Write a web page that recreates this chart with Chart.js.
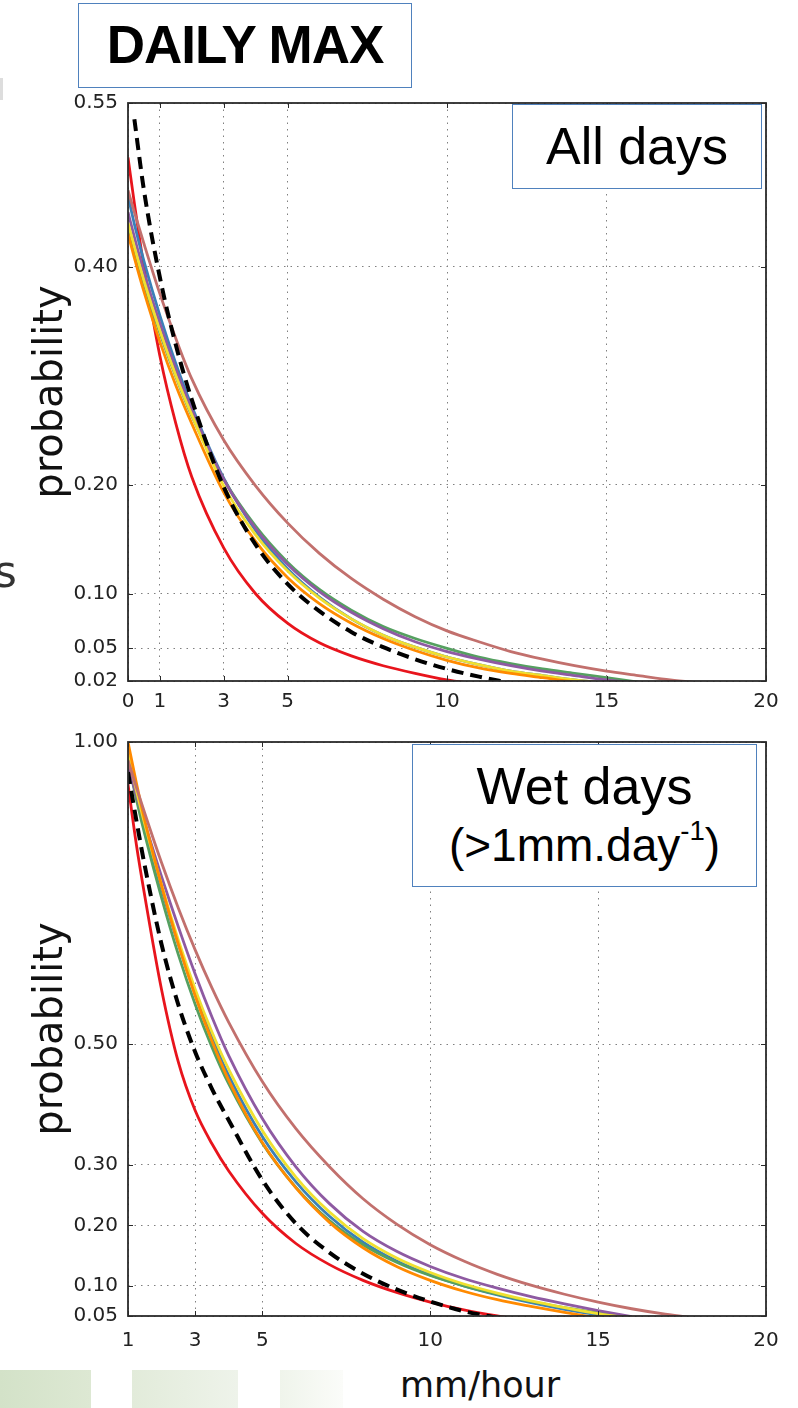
<!DOCTYPE html>
<html>
<head>
<meta charset="utf-8">
<title>Daily max - exceedance probability</title>
<script src="https://cdn.jsdelivr.net/npm/chart.js@4.4.1/dist/chart.umd.min.js"></script>
<style>
    body { margin: 0; background: #fff; }
    #page { position: relative; width: 798px; height: 1408px; overflow: hidden; font-family: "Liberation Sans", Arial, sans-serif; }
    canvas { position: absolute; left: 0; }
    #allChart { top: 0; }
    #wetChart { top: 720px; }
    .box { position: absolute; background: #fff; border: 1.5px solid #4f81bd; box-sizing: border-box; text-align: center; color: #000; }
    #titleBox { left: 78px; top: 3px; width: 334px; height: 85px; font-weight: bold; font-size: 53px; letter-spacing: -1px; line-height: 82px; }
    #allBox { left: 512px; top: 104px; width: 250px; height: 85px; font-size: 52px; line-height: 82px; }
    #wetBox { left: 412px; top: 744px; width: 345px; height: 143px; padding-top: 13px; }
    #wetBox .l1 { font-size: 52px; line-height: 56px; }
    #wetBox .l2 { font-size: 46px; line-height: 56px; margin-top: 3px; }
    #wetBox sup { font-size: 0.6em; line-height: 0; vertical-align: 0.75em; }
    #xTitle { position: absolute; left: 400px; top: 1365px; font-family: "DejaVu Sans", sans-serif; font-size: 35px; line-height: 40px; color: #111; }
    #cutS { position: absolute; left: -6px; top: 550px; font-family: "DejaVu Sans", sans-serif; font-size: 44px; line-height: 44px; color: #333; }
    #cutMark { position: absolute; left: 0; top: 78px; width: 3px; height: 22px; background: #ddd; }
    .leaf { position: absolute; top: 1370px; height: 38px; }
</style>
</head>
<body>
<div id="page">
    <canvas id="allChart" width="798" height="720"></canvas>
    <canvas id="wetChart" width="798" height="640"></canvas>

    <div id="titleBox" class="box">DAILY MAX</div>
    <div id="allBox" class="box">All days</div>
    <div id="wetBox" class="box">
        <div class="l1">Wet days</div>
        <div class="l2">(&gt;1mm.day<sup>-1</sup>)</div>
    </div>
    <div id="xTitle">mm/hour</div>
    <div id="cutS">s</div>
    <div id="cutMark"></div>
    <div class="leaf" style="left:0;width:91px;background:linear-gradient(90deg,#d3e2c8,#dde8d3);"></div>
    <div class="leaf" style="left:132px;width:106px;background:linear-gradient(90deg,#e2ebda,#eef3ea);"></div>
    <div class="leaf" style="left:280px;width:63px;background:linear-gradient(90deg,#eff4eb,#fbfcf9);"></div>
</div>

<script>
// ---- All days panel (x in mm/hour, y = probability) ----
const allX = [0, 0.2, 0.5, 1, 1.5, 2, 3, 4, 5, 6, 7, 8, 9, 10, 11, 12, 13, 14, 15, 16, 17, 18];
const allDashed = [null, 0.535, 0.47, 0.39, 0.328, 0.278, 0.198, 0.145, 0.109, 0.084, 0.065, 0.051, 0.040, 0.031, 0.024, 0.018, null, null, null, null, null, null];
const allRosy   = [0.47, 0.45, 0.421, 0.375, 0.334, 0.297, 0.241, 0.199, 0.165, 0.137, 0.114, 0.095, 0.079, 0.066, 0.056, 0.047, 0.040, 0.034, 0.029, 0.025, 0.021, 0.018];
const allOrange = [0.43, 0.408, 0.377, 0.331, 0.291, 0.256, 0.193, 0.148, 0.115, 0.091, 0.073, 0.059, 0.048, 0.039, 0.032, 0.027, 0.023, 0.019, 0.016, null, null, null];
const allYellow = [0.44, 0.418, 0.387, 0.341, 0.300, 0.264, 0.199, 0.154, 0.121, 0.096, 0.077, 0.062, 0.051, 0.042, 0.035, 0.029, 0.025, 0.021, 0.018, null, null, null];
const allPurple = [0.45, 0.427, 0.395, 0.348, 0.306, 0.269, 0.205, 0.160, 0.127, 0.102, 0.083, 0.068, 0.056, 0.047, 0.040, 0.034, 0.029, 0.025, 0.021, 0.018, null, null];
const allGreen  = [0.435, 0.414, 0.384, 0.339, 0.299, 0.263, 0.205, 0.162, 0.129, 0.104, 0.085, 0.070, 0.059, 0.050, 0.042, 0.036, 0.031, 0.027, 0.023, 0.019, null, null];
const allBlue   = [0.465, 0.439, 0.405, 0.355, 0.311, 0.272, 0.206, 0.158, 0.123, 0.097, 0.077, 0.062, 0.051, 0.042, 0.035, 0.029, 0.025, 0.021, 0.018, null, null, null];
const allRed    = [0.50, 0.458, 0.40, 0.318, 0.256, 0.207, 0.142, 0.100, 0.073, 0.055, 0.043, 0.034, 0.027, 0.021, 0.017, null, null, null, null, null, null, null];

// ---- Wet days panel ----
const wetX = [1, 1.25, 1.5, 2, 2.5, 3, 3.5, 4, 5, 6, 7, 8, 9, 10, 11, 12, 13, 14, 15, 16, 17, 18];
const wetDashed = [0.95, 0.87, 0.795, 0.665, 0.565, 0.487, 0.426, 0.374, 0.275, 0.203, 0.155, 0.120, 0.094, 0.074, 0.058, 0.047, null, null, null, null, null, null];
const wetRosy   = [0.97, 0.925, 0.882, 0.80, 0.725, 0.656, 0.593, 0.536, 0.438, 0.36, 0.297, 0.244, 0.202, 0.168, 0.141, 0.119, 0.101, 0.086, 0.073, 0.062, 0.053, 0.046];
const wetOrange = [1.0, 0.932, 0.87, 0.762, 0.665, 0.58, 0.505, 0.44, 0.337, 0.262, 0.205, 0.163, 0.132, 0.109, 0.091, 0.077, 0.066, 0.056, 0.047, null, null, null];
const wetYellow = [0.98, 0.92, 0.864, 0.763, 0.672, 0.591, 0.52, 0.458, 0.357, 0.28, 0.222, 0.178, 0.146, 0.122, 0.103, 0.088, 0.075, 0.064, 0.054, 0.046, null, null];
const wetPurple = [0.96, 0.912, 0.866, 0.777, 0.694, 0.616, 0.545, 0.481, 0.377, 0.297, 0.236, 0.19, 0.157, 0.132, 0.112, 0.096, 0.082, 0.07, 0.059, 0.049, null, null];
const wetGreen  = [0.97, 0.905, 0.847, 0.742, 0.648, 0.566, 0.495, 0.434, 0.336, 0.263, 0.208, 0.168, 0.139, 0.117, 0.1, 0.086, 0.074, 0.064, 0.055, 0.047, null, null];
const wetBlue   = [0.97, 0.912, 0.858, 0.757, 0.665, 0.583, 0.511, 0.448, 0.347, 0.272, 0.215, 0.172, 0.141, 0.118, 0.1, 0.085, 0.072, 0.061, 0.052, 0.045, null, null];
const wetRed    = [0.93, 0.83, 0.745, 0.59, 0.47, 0.39, 0.335, 0.29, 0.22, 0.17, 0.135, 0.109, 0.089, 0.073, 0.06, 0.05, 0.042, null, null, null, null, null];

// tick labels
const allXTicks = [0, 1, 3, 5, 10, 15, 20];
const allYTicks = [0.02, 0.05, 0.10, 0.20, 0.40, 0.55];
const wetXTicks = [1, 3, 5, 10, 15, 20];
const wetYTicks = [0.05, 0.10, 0.20, 0.30, 0.50, 1.00];

// line styles, first one is drawn on top
const lineStyles = [
    { color: '#000000', width: 4, dash: [12, 7] },
    { color: '#c2706d', width: 2.8 },
    { color: '#ff8a00', width: 2.8 },
    { color: '#f0e030', width: 2.8 },
    { color: '#8e5aa2', width: 2.8 },
    { color: '#55a060', width: 2.8 },
    { color: '#3a80b8', width: 2.8 },
    { color: '#e8141c', width: 2.8 }
];

const tickFont = { family: 'DejaVu Sans', size: 20 };

function toPoints(xs, ys) {
    return xs.map((x, i) => ({ x: x, y: ys[i] }));
}

function makeDatasets(xs, seriesList) {
    return seriesList.map((ys, i) => ({
        data: toPoints(xs, ys),
        borderColor: lineStyles[i].color,
        borderWidth: lineStyles[i].width,
        borderDash: lineStyles[i].dash || [],
        pointRadius: 0,
        fill: false
    }));
}

// frame round the plot plus small inward tick marks
const framePlugin = {
    id: 'frame',
    afterDraw(chart) {
        const { ctx, chartArea: a, scales } = chart;
        ctx.save();
        ctx.strokeStyle = '#2a2a2a';
        ctx.lineWidth = 1;
        scales.x.ticks.forEach(t => {
            const px = Math.round(scales.x.getPixelForValue(t.value)) + 0.5;
            ctx.beginPath();
            ctx.moveTo(px, a.bottom); ctx.lineTo(px, a.bottom - 5);
            ctx.moveTo(px, a.top); ctx.lineTo(px, a.top + 5);
            ctx.stroke();
        });
        scales.y.ticks.forEach(t => {
            const py = Math.round(scales.y.getPixelForValue(t.value)) + 0.5;
            ctx.beginPath();
            ctx.moveTo(a.left, py); ctx.lineTo(a.left + 5, py);
            ctx.moveTo(a.right, py); ctx.lineTo(a.right - 5, py);
            ctx.stroke();
        });
        ctx.lineWidth = 1.8;
        ctx.strokeRect(a.left, a.top, a.right - a.left, a.bottom - a.top);
        ctx.restore();
    }
};

function makeScales(xMin, xTicks, yMin, yMax, yTicks, xAxisHeight, xTickPad) {
    const gridStyle = { color: '#808080', lineWidth: 1, drawTicks: false };
    return {
        x: {
            type: 'linear',
            min: xMin,
            max: 20,
            afterBuildTicks: s => { s.ticks = xTicks.map(v => ({ value: v })); },
            afterFit: s => { s.height = xAxisHeight; },
            ticks: { font: tickFont, color: '#222', padding: xTickPad, autoSkip: false, maxRotation: 0, callback: v => String(v) },
            grid: gridStyle,
            border: { display: false, dash: [1.5, 5] }
        },
        y: {
            type: 'linear',
            min: yMin,
            max: yMax,
            afterBuildTicks: s => { s.ticks = yTicks.map(v => ({ value: v })); },
            afterFit: s => { s.width = 128; },
            ticks: { font: tickFont, color: '#222', padding: 10, autoSkip: false, callback: v => v.toFixed(2) },
            grid: gridStyle,
            border: { display: false, dash: [1.5, 5] },
            title: {
                display: true,
                text: 'probability',
                color: '#111',
                font: { family: 'DejaVu Sans', size: 40 },
                padding: { top: 28, bottom: 0 }
            }
        }
    };
}

function buildChart(canvasId, datasets, scales, padTop) {
    const ctx = document.getElementById(canvasId).getContext('2d');
    return new Chart(ctx, {
        type: 'line',
        data: { datasets: datasets },
        options: {
            responsive: false,
            animation: false,
            devicePixelRatio: 1,
            layout: { padding: { top: padTop, right: 32, left: 0, bottom: 0 } },
            elements: { line: { cubicInterpolationMode: 'monotone' } },
            plugins: { legend: { display: false }, tooltip: { enabled: false } },
            scales: scales
        },
        plugins: [framePlugin]
    });
}

document.addEventListener('DOMContentLoaded', function() {
    buildChart('allChart',
        makeDatasets(allX, [allDashed, allRosy, allOrange, allYellow, allPurple, allGreen, allBlue, allRed]),
        makeScales(0, allXTicks, 0.02, 0.55, allYTicks, 39, 9),
        103);

    buildChart('wetChart',
        makeDatasets(wetX, [wetDashed, wetRosy, wetOrange, wetYellow, wetPurple, wetGreen, wetBlue, wetRed]),
        makeScales(1, wetXTicks, 0.05, 1.00, wetYTicks, 44, 13),
        21);
});
</script>
</body>
</html>
